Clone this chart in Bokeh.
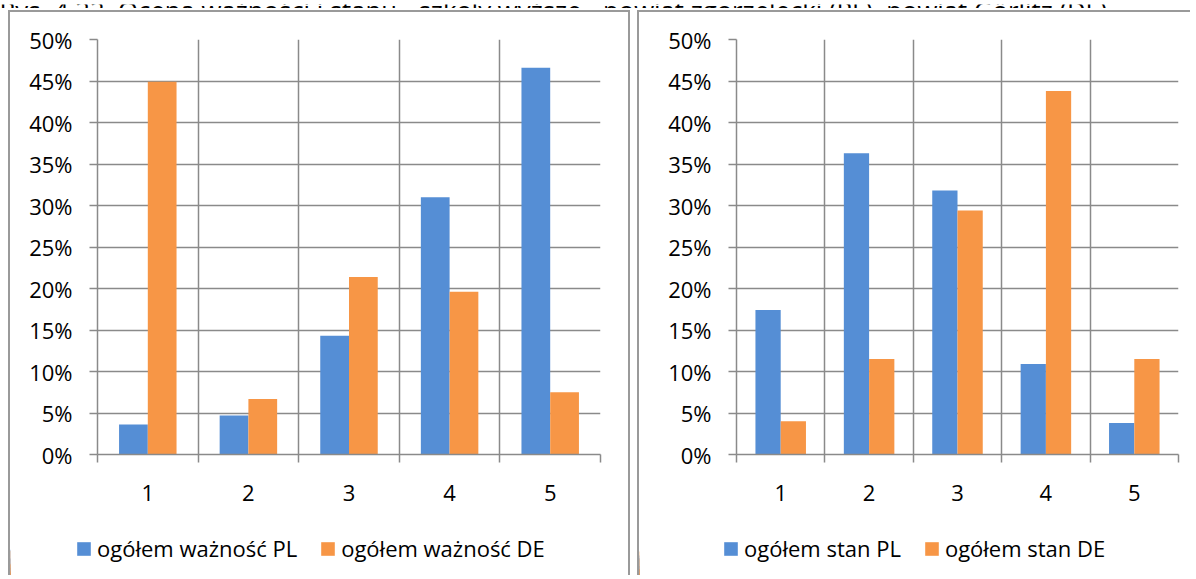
from bokeh.plotting import figure
from bokeh.models import Range1d, FixedTicker, NumeralTickFormatter, Legend, LegendItem, ColumnDataSource
from bokeh.layouts import row, column
from bokeh.transform import dodge
from bokeh.core.properties import value
from bokeh.embed import file_html
from bokeh.resources import INLINE

title = "Rys. 4.22. Ocena ważności i stanu - szkoły wyższe - powiat zgorzelecki (PL), powiat Görlitz (DE)"
categories = [1, 2, 3, 4, 5]
category_labels = ["1", "2", "3", "4", "5"]
waznosc_pl = [0.036, 0.047, 0.143, 0.310, 0.466]
waznosc_de = [0.449, 0.067, 0.214, 0.196, 0.075]
stan_pl = [0.174, 0.363, 0.318, 0.109, 0.038]
stan_de = [0.040, 0.115, 0.294, 0.438, 0.115]
y_ticks = [0.0, 0.05, 0.10, 0.15, 0.20, 0.25, 0.30, 0.35, 0.40, 0.45, 0.50]
boundaries = [0.5, 1.5, 2.5, 3.5, 4.5, 5.5]

BLUE = "#558ed5"
ORANGE = "#f79646"
GRID = "#8a8a8a"
BORDER = "2px solid #9a9a9a"
FONT = "Open Sans"
FS = "22px"
BAR_W = 1 / 3.5


def style_axes(p):
    xa = p.xaxis[0]
    xa.ticker = FixedTicker(ticks=categories, minor_ticks=boundaries)
    xa.major_label_overrides = {c: l for c, l in zip(categories, category_labels)}
    xa.major_tick_out = 0
    xa.major_tick_in = 0
    xa.minor_tick_out = 8
    xa.minor_tick_in = 0
    xa.minor_tick_line_color = GRID
    xa.minor_tick_line_width = 1.5
    xa.axis_line_color = GRID
    xa.axis_line_width = 1.5
    xa.major_label_text_font = FONT
    xa.major_label_text_font_size = FS
    xa.major_label_text_color = "#000000"
    xa.major_label_standoff = 22

    ya = p.yaxis[0]
    ya.ticker = FixedTicker(ticks=y_ticks, minor_ticks=[])
    ya.formatter = NumeralTickFormatter(format="0%")
    ya.major_tick_out = 8
    ya.major_tick_in = 0
    ya.major_tick_line_color = GRID
    ya.major_tick_line_width = 1.5
    ya.minor_tick_line_color = None
    ya.axis_line_color = GRID
    ya.axis_line_width = 1.5
    ya.major_label_text_font = FONT
    ya.major_label_text_font_size = FS
    ya.major_label_text_color = "#000000"
    ya.major_label_standoff = 17

    p.xgrid.grid_line_color = None
    p.xgrid.minor_grid_line_color = GRID
    p.xgrid.minor_grid_line_width = 1.5
    p.ygrid.grid_line_color = GRID
    p.ygrid.grid_line_width = 1.5


def make_panel(pl, de, label_pl, label_de, width, b_left, b_right, leg_x, margin_left, right_border):
    src = ColumnDataSource(dict(x=categories, pl=pl, de=de))
    cstyles = {"border-top": BORDER, "border-left": BORDER,
               "margin-top": "2px", "margin-left": margin_left}
    lstyles = {"border-left": BORDER, "margin-left": margin_left}
    if right_border:
        cstyles["border-right"] = BORDER
        lstyles["border-right"] = BORDER
    p = figure(width=width, height=510, output_backend="svg", toolbar_location=None,
               x_range=Range1d(0.5, 5.5), y_range=Range1d(0, 0.5),
               min_border_left=b_left, min_border_right=b_right,
               min_border_top=27, min_border_bottom=68,
               outline_line_color=None, styles=cstyles)
    p.vbar(x=dodge("x", -BAR_W / 2, range=p.x_range), top="pl", width=BAR_W,
           source=src, fill_color=BLUE, line_color=None)
    p.vbar(x=dodge("x", BAR_W / 2, range=p.x_range), top="de", width=BAR_W,
           source=src, fill_color=ORANGE, line_color=None)
    style_axes(p)

    # legend strip: same data, on a range where no bar is visible (only the key is shown)
    lg = figure(width=width, height=55, output_backend="svg", toolbar_location=None,
                x_range=Range1d(100, 101), y_range=Range1d(0, 1),
                x_axis_type=None, y_axis_type=None, outline_line_color=None,
                min_border_left=0, min_border_right=0, min_border_top=0, min_border_bottom=0,
                frame_align=False, styles=lstyles)
    lg.xgrid.grid_line_color = None
    lg.ygrid.grid_line_color = None
    k1 = lg.vbar(x="x", top="pl", width=BAR_W, source=src, fill_color=BLUE, line_color=None)
    k2 = lg.vbar(x="x", top="de", width=BAR_W, source=src, fill_color=ORANGE, line_color=None)
    legend = Legend(items=[LegendItem(label=label_pl, renderers=[k1]),
                           LegendItem(label=label_de, renderers=[k2])],
                    orientation="horizontal", location=(leg_x, 12),
                    label_text_font=FONT, label_text_font_size=FS,
                    label_text_color="#000000",
                    glyph_width=17, glyph_height=17, label_standoff=5,
                    spacing=22, padding=0, margin=0,
                    border_line_color=None, background_fill_alpha=0)
    lg.add_layout(legend)
    return column(p, lg)


head = figure(width=1190, height=8, output_backend="svg", toolbar_location=None,
              x_range=Range1d(0, 1190), y_range=Range1d(0, 8),
              x_axis_type=None, y_axis_type=None, outline_line_color=None,
              min_border_left=0, min_border_right=0, min_border_top=0, min_border_bottom=0,
              frame_align=False)
head.xgrid.grid_line_color = None
head.ygrid.grid_line_color = None
head.text(x=[-1], y=[2], text=[title], text_font=value(FONT), text_font_size="25.7px",
          text_color="#000000", text_baseline="alphabetic", text_align="left")

left = make_panel(waznosc_pl, waznosc_de, "ogółem ważność PL", "ogółem ważność DE",
                  622, 87, 32, 65, "8px", True)
right = make_panel(stan_pl, stan_de, "ogółem stan PL", "ogółem stan DE",
                   553, 97, 14, 83, "7px", False)

layout = column(head, row(left, right))
open("out.html", "w").write(file_html(layout, INLINE))
